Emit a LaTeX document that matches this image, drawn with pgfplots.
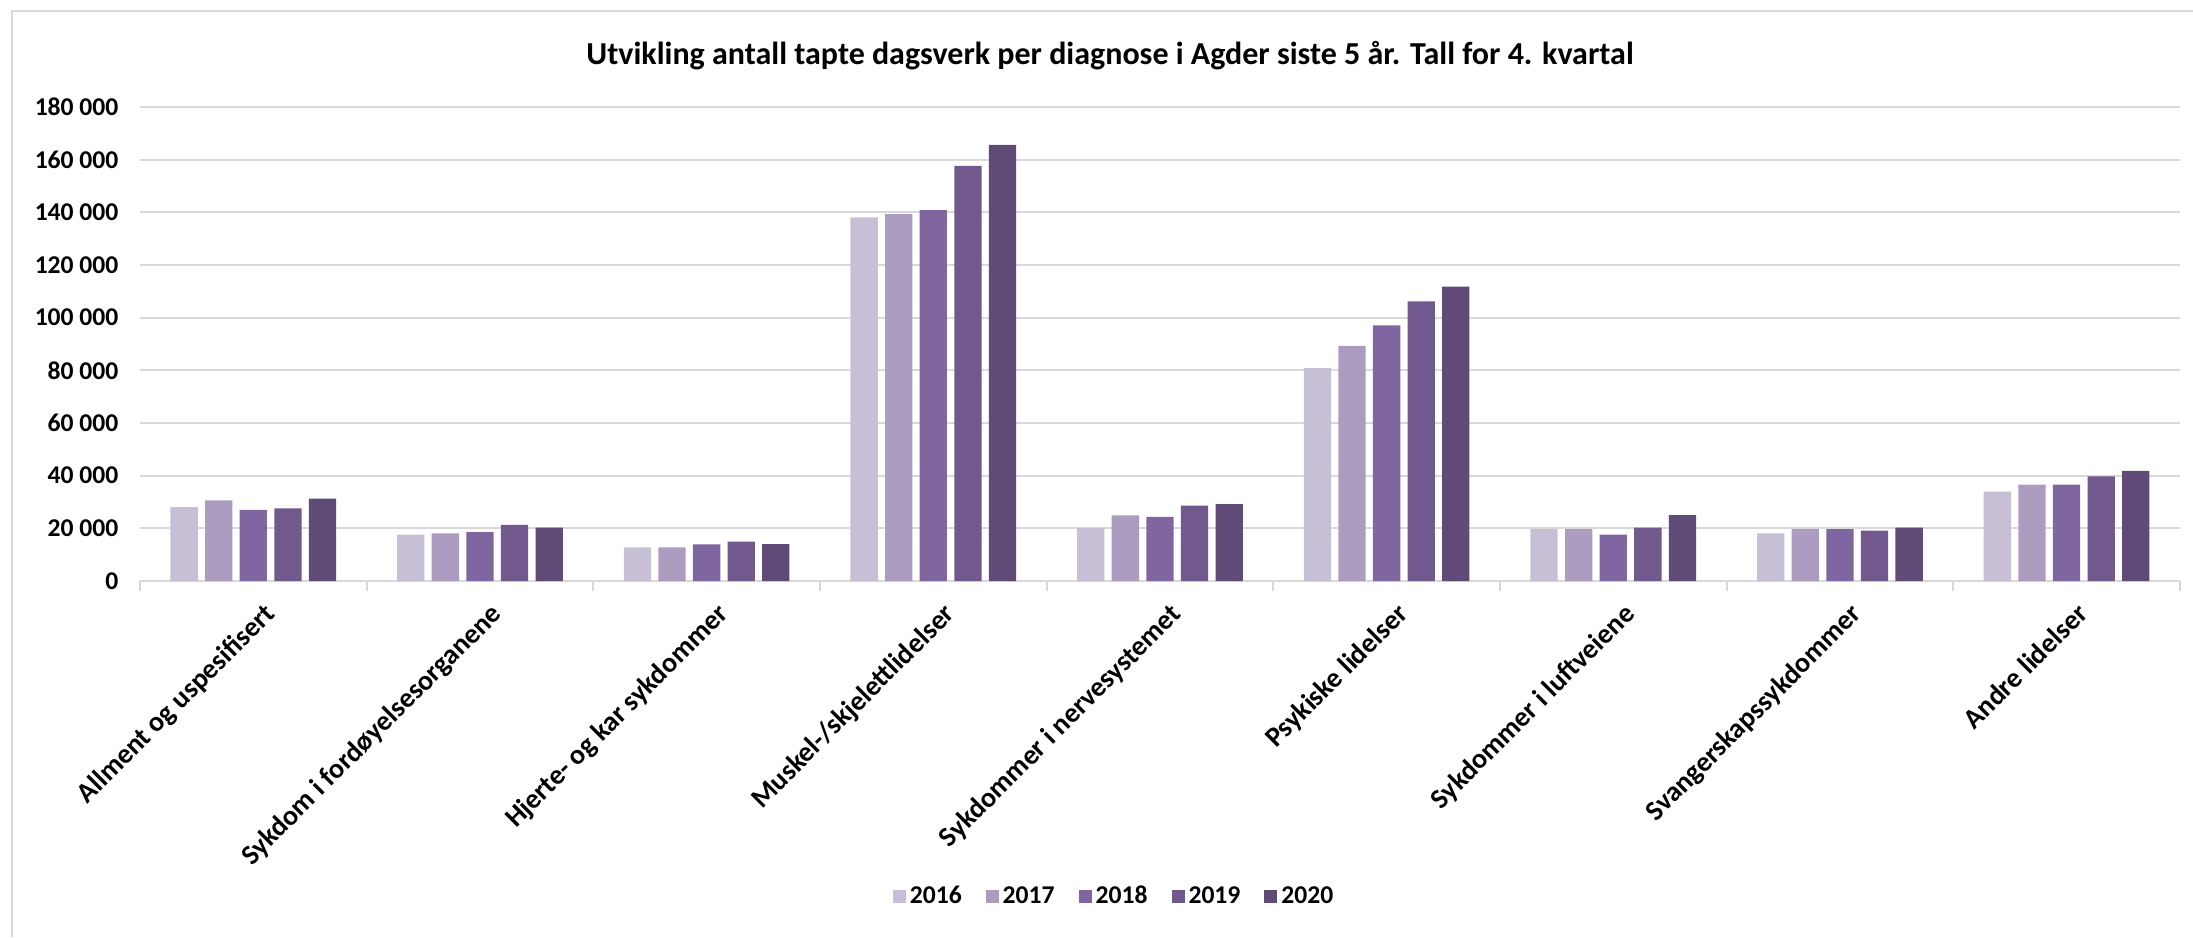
\documentclass[border=0pt]{standalone}
\usepackage{fontspec}
\setmainfont{Carlito}
\usepackage{pgfplots}
\pgfplotsset{compat=1.18}
\usepackage{pgfplotstable}
\definecolor{cA}{HTML}{C7BFD5}
\definecolor{cB}{HTML}{AB9CC0}
\definecolor{cC}{HTML}{8066A0}
\definecolor{cD}{HTML}{71598D}
\definecolor{cE}{HTML}{5F4A78}
\definecolor{gridgray}{HTML}{D9D9D9}
\pgfplotstableread{
x y2016 y2017 y2018 y2019 y2020
0 28100 30600 27000 27600 31300
1 17600 18100 18600 21300 20300
2 12800 12800 13900 15000 14000
3 138100 139300 140800 157600 165600
4 20100 24900 24400 28600 29200
5 80800 89300 97100 106200 111800
6 19700 19700 17600 20300 25000
7 18100 19700 19700 19100 20300
8 33900 36600 36600 39700 41800
}\data
\begin{document}
\begin{tikzpicture}
\path[use as bounding box] (0,0) rectangle (1096.5pt,-468.5pt);
\draw[gridgray, line width=1pt] (6pt,-468.5pt) -- (6pt,-5.5pt) -- (1096.5pt,-5.5pt);
\node[font=\bfseries\fontsize{16}{18}\selectfont, anchor=center] at (555pt,-28pt) {Utvikling antall tapte dagsverk per diagnose i Agder siste 5 år. Tall for 4. kvartal};
\begin{axis}[
  at={(70pt,-290.5pt)}, anchor=south west,
  scale only axis, width=1020pt, height=237pt,
  ybar=3.65pt, bar width=13.65pt,
  xmin=-0.5, xmax=8.5, ymin=0, ymax=180000,
  ytick={0,20000,40000,60000,80000,100000,120000,140000,160000,180000},
  yticklabels={0,20 000,40 000,60 000,80 000,100 000,120 000,140 000,160 000,180 000},
  scaled y ticks=false,
  ymajorgrids, grid style={gridgray, line width=1pt},
  axis x line*=bottom, axis y line*=left,
  x axis line style={gridgray, line width=1pt},
  y axis line style={draw=none},
  ytick style={draw=none},
  major x tick style={draw=none},
  xtick={0,...,8},
  minor xtick={-0.5,0.5,...,8.5},
  minor tick length=5pt,
  minor x tick style={gridgray, line width=1pt},
  tick align=outside,
  xticklabels={Allment og uspesifisert, Sykdom i fordøyelsesorganene, Hjerte- og kar sykdommer, Muskel-/skjelettlidelser, Sykdommer i nervesystemet, Psykiske lidelser, Sykdommer i luftveiene, Svangerskapssykdommer, Andre lidelser},
  xticklabel style={font=\bfseries\fontsize{14}{16}\selectfont, rotate=45, anchor=north east, inner sep=0pt, xshift=-1pt, yshift=-7.25pt},
  yticklabel style={font=\bfseries\fontsize{12.8}{14}\selectfont, xshift=-3pt},
  legend columns=5,
  legend style={at={(0.478,-0.665)}, anchor=center, draw=none, font=\bfseries\fontsize{12.8}{14}\selectfont,
    /tikz/every even column/.append style={column sep=10pt}},
  legend image code/.code={\fill[#1] (0pt,-3.25pt) rectangle (6.5pt,3.25pt);},
]
\addplot[fill=cA, draw=none] table[x=x, y=y2016] {\data};
\addplot[fill=cB, draw=none] table[x=x, y=y2017] {\data};
\addplot[fill=cC, draw=none] table[x=x, y=y2018] {\data};
\addplot[fill=cD, draw=none] table[x=x, y=y2019] {\data};
\addplot[fill=cE, draw=none] table[x=x, y=y2020] {\data};
\legend{2016,2017,2018,2019,2020}
\end{axis}
\end{tikzpicture}
\end{document}
